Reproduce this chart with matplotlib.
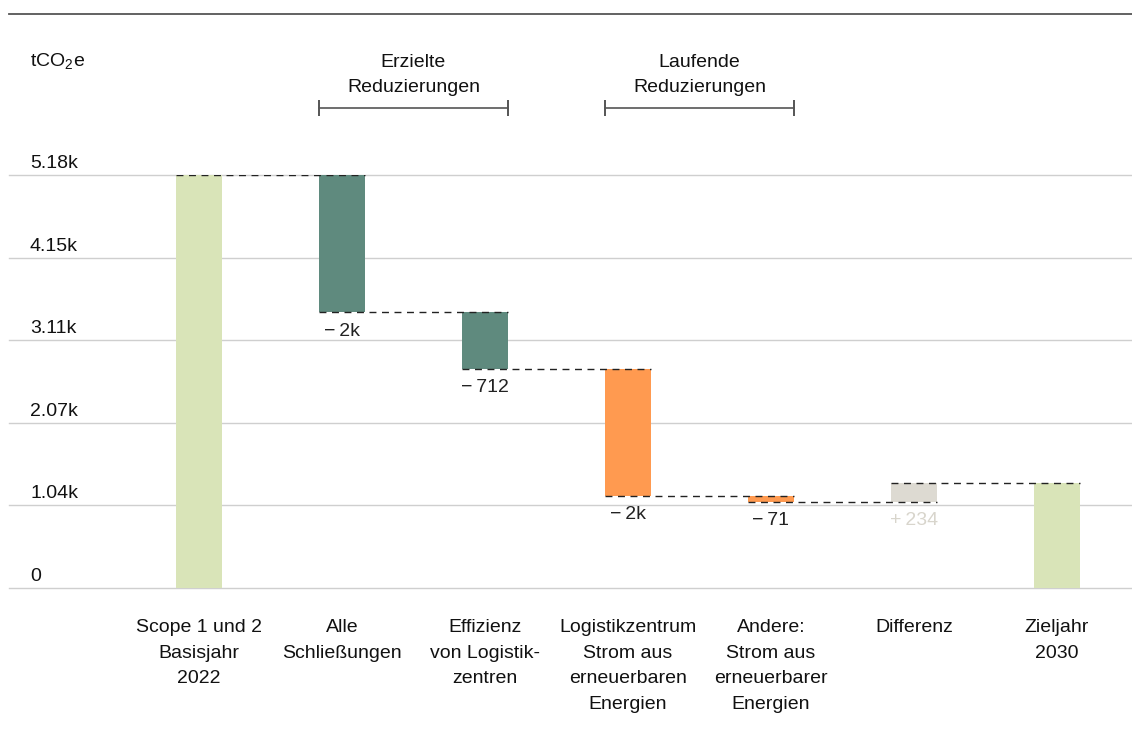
import matplotlib
matplotlib.use("Agg")
import matplotlib.pyplot as plt
import matplotlib.transforms as mtransforms

plt.rcParams['font.family'] = ['Liberation Sans', 'DejaVu Sans']
plt.rcParams['mathtext.fontset'] = 'custom'
plt.rcParams['mathtext.rm'] = 'Liberation Sans'

# ---- data ----
categories = ["Scope 1 und 2\nBasisjahr\n2022", "Alle\nSchließungen",
              "Effizienz\nvon Logistik-\nzentren", "Logistikzentrum\nStrom aus\nerneuerbaren\nEnergien",
              "Andere:\nStrom aus\nerneuerbarer\nEnergien", "Differenz", "Zieljahr\n2030"]
base_value = 5180
deltas = [-1719, -712, -1595, -71, 234]
delta_labels = ["−\u20092k", "−\u2009712", "−\u20092k", "−\u200971", "+\u2009234"]
ytick_values = [0, 1036, 2072, 3108, 4144, 5180]
ytick_labels = ["0", "1.04k", "2.07k", "3.11k", "4.15k", "5.18k"]
groups = [("Erzielte\nReduzierungen", 1, 2), ("Laufende\nReduzierungen", 3, 4)]

# ---- style ----
c_total = "#d9e4b8"
c_done = "#5f8a7e"
c_run = "#ff9a50"
c_diff = "#dddad2"
delta_colors = [c_done, c_done, c_run, c_run, c_diff]
label_colors = ["#222222"] * 4 + ["#d8d5cc"]
FS = 14
LS = 1.67

W, H = 1132, 733
fig = plt.figure(figsize=(W / 100, H / 100), dpi=100)
ax = fig.add_axes([9 / W, (H - 588) / H, 1 - 9 / W, (588 - 175) / H])
ax.set_ylim(0, 5180)
xl = (9 - 199) / 143
xr = (1132 - 199) / 143
ax.set_xlim(xl, xr)
for s in ax.spines.values():
    s.set_visible(False)
ax.set_xticks([])
ax.set_yticks([])

bw = 46 / 143
# gridlines
for v in ytick_values:
    ax.axhline(v, color="#cfcfcf", lw=1, zorder=0, clip_on=False)
off = mtransforms.offset_copy(ax.transData, fig=fig, x=0, y=7, units='dots')
for v, lab in zip(ytick_values, ytick_labels):
    ax.text((30 - 199) / 143, v, lab, transform=off, ha='left', va='baseline',
            fontsize=FS, color="#111111")

# bars
levels = [base_value]
for d in deltas:
    levels.append(levels[-1] + d)
final = levels[-1]

ax.bar(0, base_value, width=bw, color=c_total, zorder=2)
for i, d in enumerate(deltas):
    start = levels[i]
    end = levels[i + 1]
    ax.bar(i + 1, end - start, bottom=start, width=bw, color=delta_colors[i], zorder=2)
ax.bar(len(deltas) + 1, final, width=bw, color=c_total, zorder=2)

# connectors
for i in range(len(levels)):
    ax.plot([i - bw / 2, i + 1 + bw / 2], [levels[i], levels[i]], color="#222222",
            lw=1, ls=(0, (5, 4)), zorder=3)

# delta labels
for i, d in enumerate(deltas):
    low = min(levels[i], levels[i + 1])
    ax.annotate(delta_labels[i], (i + 1, low), xytext=(0, -19), textcoords='offset pixels',
                ha='center', va='center', fontsize=FS, color=label_colors[i])

# category labels
for i, c in enumerate(categories):
    ax.annotate(c, (i, 0), xytext=(0, -31), textcoords='offset pixels', ha='center',
                va='top', fontsize=FS, color="#111111", linespacing=LS)

# group brackets
for text, a, b in groups:
    y = 5180
    x0, x1 = a - bw / 2, b + bw / 2
    trb = mtransforms.offset_copy(ax.transData, fig=fig, x=0, y=67, units='dots')
    ax.plot([x0, x1], [y, y], transform=trb, color="#555555", lw=1.2, clip_on=False)
    for xx in (x0, x1):
        ax.plot([xx, xx], [y, y], transform=trb, marker='|', markersize=11,
                color="#555555", mew=1.2, clip_on=False)
    trt = mtransforms.offset_copy(ax.transData, fig=fig, x=0, y=100, units='dots')
    ax.text((a + b) / 2, y, text, transform=trt, ha='center', va='center',
            fontsize=FS, color="#111111", linespacing=LS, clip_on=False)

# unit label
fig.text(30 / W, 1 - 62 / H, "tCO$_2$e", ha='left', va='center', fontsize=FS, color="#111111")

# top rule
fig.add_artist(plt.Line2D([9 / W, 1], [1 - 14 / H, 1 - 14 / H], color="#555555", lw=1.3,
                          transform=fig.transFigure))

fig.savefig("out.png", dpi=100, facecolor="white")
